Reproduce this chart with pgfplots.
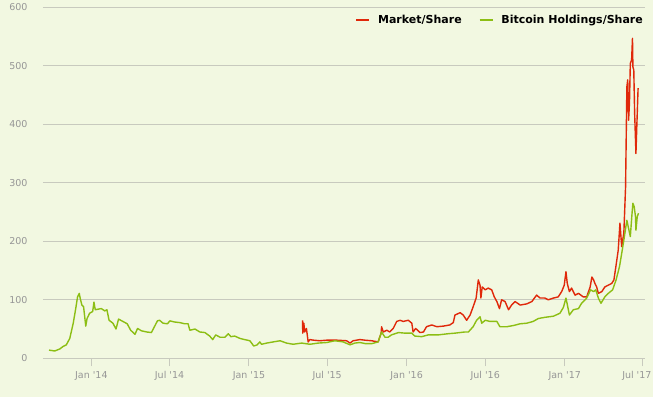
\documentclass[border=0pt]{standalone}
\usepackage{pgfplots}
\pgfplotsset{compat=1.18}
\usepackage{fontspec}
\setmainfont{DejaVu Sans}
\definecolor{bg}{RGB}{242,248,225}
\definecolor{gridc}{RGB}{200,202,190}
\definecolor{tickc}{RGB}{150,150,150}
\definecolor{redc}{RGB}{224,40,10}
\definecolor{greenc}{RGB}{140,190,20}
\begin{document}
\begin{tikzpicture}
\fill[bg] (0,0) rectangle (653bp,397bp);
\begin{axis}[
  at={(43bp,38.7bp)}, anchor=south west,
  scale only axis, width=602bp, height=351bp,
  xmin=-112, xmax=1282, ymin=0, ymax=600,
  axis line style={draw=none},
  ytick={0,100,200,300,400,500,600},
  ymajorgrids, grid style={gridc, line width=1bp},
  xtick={0,181,365,546,730,912,1096,1277},
  xticklabels={Jan \textquotesingle14,Jul \textquotesingle14,Jan \textquotesingle15,Jul \textquotesingle15,Jan \textquotesingle16,Jul \textquotesingle16,Jan \textquotesingle17,\hspace*{-12bp}Jul \textquotesingle17},
  tick align=outside, xtick pos=bottom, ytick pos=left,
  x tick style={gridc, line width=1bp}, major tick length=8bp,
  y tick style={draw=none},
  /pgf/number format/assume math mode=true,
  tick label style={text=tickc, font=\fontsize{9.5bp}{11bp}\selectfont},
  xticklabel style={yshift=-1.5bp},
  yticklabel style={xshift=-4bp},
  clip=false,
  legend style={at={(1.005,0.964)}, anchor=east, draw=none, fill=none,
    legend columns=2, font=\fontsize{11bp}{13bp}\selectfont\bfseries,
    /tikz/every even column/.append style={column sep=15bp}},
  legend image code/.code={\draw[#1,line width=2bp] (0bp,0bp) -- (13bp,0bp); \path (19bp,0bp);},
]
\addplot[redc, line width=1.4bp, line join=round] coordinates {
(489,65) (489.5,43) (492,60) (494,45) (498,51) (502,28) (506,32) (514,31) (529,30) (545,31) (568,31) (591,30) (599,26) (606,30) (622,32) (633,31) (649,30) (664,28) (671,43) (672,54) (676,45) (684,48) (691,45) (699,51) (707,63) (715,65) (722,63) (734,65) (742,60) (745,45) (751,51) (761,44) (769,45) (776,54) (788,57) (800,54) (815,55) (830,57) (838,61) (842,74) (854,78) (861,74) (869,65) (877,74) (884,88) (891,103) (896,134) (900,125) (902,103) (905,122) (912,117) (919,120) (927,117) (933,105) (939,97) (945,85) (950,100) (958,97) (966,83) (973,91) (981,97) (993,91) (1008,93) (1020,97) (1031,108) (1039,103) (1050,103) (1058,100) (1070,103) (1081,105) (1089,114) (1095,125) (1099,148) (1102,128) (1107,114) (1112,120) (1120,108) (1128,111) (1139,105) (1147,105) (1155,122) (1159,139) (1163,134) (1166,128) (1170,122) (1174,111) (1182,114) (1189,122) (1197,125) (1205,128) (1210,134) (1215,159) (1220,185) (1224,231) (1228,191) (1233,214) (1237,293) (1240,464) (1242,476) (1244,407) (1246,436) (1248,504) (1251,510) (1253,547) (1254,498) (1256,493) (1258,419) (1261,350) (1263,396) (1266,462)
};
\addlegendentry{Market/Share}
\addplot[greenc, line width=1.4bp, line join=round] coordinates {
(-98,14) (-85,12.5) (-73,16) (-66,20) (-58,23) (-50,34) (-42,60) (-36,86) (-32,105) (-28,111) (-26,103) (-22,91) (-18,88) (-13,55) (-10,68) (-4,77) (3,80) (6,96) (9,83) (16,84) (23,85) (31,81) (36,83) (41,65) (50,60) (57,50) (63,67) (73,63) (83,59) (91,48) (101,41) (107,51) (116,47) (128,45) (139,44) (153,64) (158,65) (166,60) (176,59) (182,64) (193,62) (205,61) (216,59) (224,59) (228,48) (240,50) (251,45) (263,44) (274,38) (281,32) (288,40) (298,36) (309,36) (317,42) (323,37) (332,38) (344,34) (355,32) (367,30) (376,21) (384,23) (390,28) (394,24) (406,26) (421,28) (437,30) (452,26) (467,24) (487,26) (506,24) (525,26) (545,27) (564,30) (583,28) (599,23) (610,26) (622,27) (635,25) (649,25) (664,28) (672,45) (680,36) (687,36) (695,40) (711,44) (726,43) (742,43) (749,38) (765,37) (780,40) (803,40) (826,42) (842,43) (865,45) (873,45) (884,54) (892,65) (900,71) (904,60) (912,65) (923,63) (939,63) (946,54) (962,54) (977,56) (993,59) (1008,60) (1023,63) (1035,68) (1050,70) (1070,72) (1085,77) (1093,87) (1099,103) (1107,74) (1116,83) (1128,85) (1135,94) (1147,103) (1156,117) (1163,114) (1168,117) (1174,103) (1180,94) (1189,105) (1197,111) (1207,117) (1215,134) (1223,157) (1228,179) (1233,202) (1240,236) (1244,222) (1248,208) (1252,248) (1254,265) (1257,259) (1260,242) (1261,219) (1264,242) (1267,248)
};
\addlegendentry{Bitcoin Holdings/Share}
\end{axis}
\pgfresetboundingbox
\path[use as bounding box] (0,0) rectangle (653bp,397bp);
\end{tikzpicture}
\end{document}
